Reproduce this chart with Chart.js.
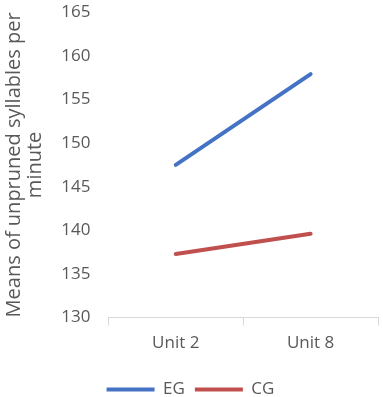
<!DOCTYPE html>
<html>
<head>
<meta charset="utf-8">
<script src="https://cdn.jsdelivr.net/npm/chart.js@4"></script>
<style>
  body { margin: 0; background: #fff; }
  .wrap { width: 383px; height: 397px; }
</style>
</head>
<body>
<div class="wrap"><canvas id="line"></canvas></div>
<script>
const units = ["Unit 2", "Unit 8"];
const egValues = [147.5, 157.9];
const cgValues = [137.3, 139.6];
const yTitle = ["Means of unpruned syllables per", "minute"];

const ctx = document.getElementById("line").getContext("2d");
const grey = "#595959";

// nudge the legend down towards the bottom edge
const legendNudge = {
  id: "legendNudge",
  afterLayout(chart) {
    chart.legend.top += 11;
    chart.legend.bottom += 11;
  },
};

let chart = new Chart(ctx, {
  type: "line",
  data: {
    labels: units,
    datasets: [
      {
        label: "EG",
        data: egValues,
        borderColor: "#4472C4",
        backgroundColor: "#4472C4",
        borderWidth: 4,
        borderCapStyle: "round",
        pointRadius: 0,
      },
      {
        label: "CG",
        data: cgValues,
        borderColor: "#C0504D",
        backgroundColor: "#C0504D",
        borderWidth: 4,
        borderCapStyle: "round",
        pointRadius: 0,
      },
    ],
  },
  options: {
    responsive: true,
    maintainAspectRatio: false,
    animation: false,
    layout: {
      padding: { top: 0, right: 5, left: 3, bottom: 0 },
    },
    scales: {
      x: {
        offset: true,
        grid: {
          offset: true,
          drawOnChartArea: false,
          color: "#d9d9d9",
          tickLength: 8,
        },
        border: { color: "#d9d9d9", width: 1 },
        ticks: {
          color: grey,
          font: { family: "Open Sans", size: 17 },
          padding: 7,
        },
      },
      y: {
        min: 130,
        max: 165,
        grid: { display: false, tickLength: 16 },
        border: { display: false },
        ticks: {
          stepSize: 5,
          color: grey,
          font: { family: "Open Sans", size: 17 },
          padding: 2,
        },
        title: {
          display: true,
          text: yTitle,
          color: grey,
          font: { family: "Open Sans", size: 20, lineHeight: 1.08 },
          padding: 0,
        },
        afterFit: (scale) => {
          scale.width += 13;
        },
      },
    },
    plugins: {
      legend: {
        position: "bottom",
        labels: {
          usePointStyle: true,
          pointStyle: "line",
          pointStyleWidth: 48,
          color: grey,
          font: { family: "Open Sans", size: 17 },
          padding: 10,
        },
      },
      tooltip: { enabled: false },
    },
  },
  plugins: [legendNudge],
});
</script>
</body>
</html>
